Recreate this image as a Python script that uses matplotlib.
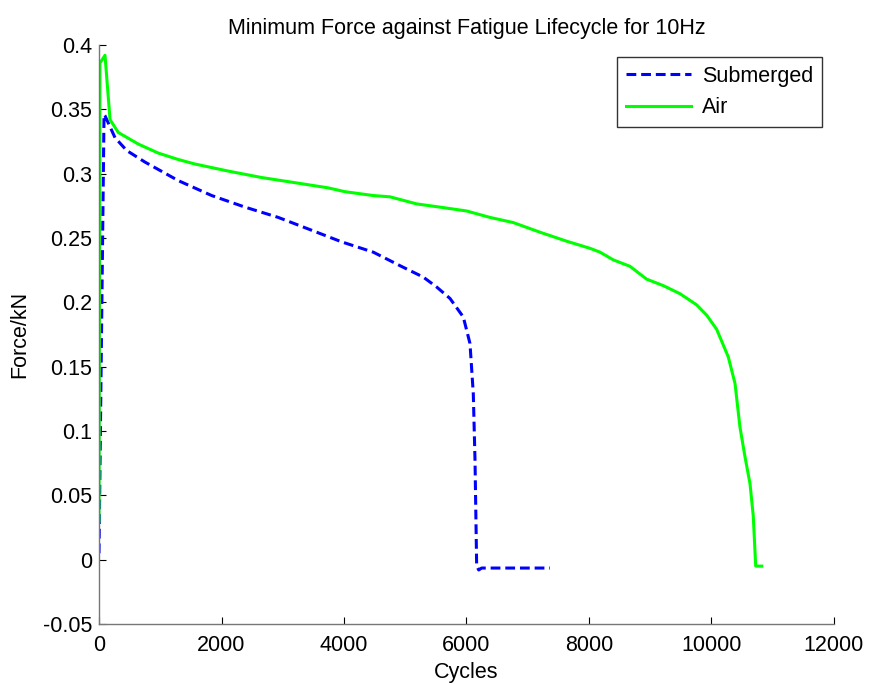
import matplotlib
matplotlib.use("Agg")
import matplotlib.pyplot as plt
from matplotlib.ticker import FormatStrFormatter

plt.rcParams['font.family'] = ['Liberation Sans', 'DejaVu Sans']

# Submerged test
sub_cycles = [0, 82, 98, 261, 452, 751, 1295, 1840, 2384, 2927, 3473, 3962,
              4478, 4914, 5295, 5513, 5731, 5948, 6057, 6111, 6139, 6166,
              6200, 6248, 7363]
sub_force = [0.005, 0.346, 0.345, 0.328, 0.318, 0.309, 0.2946, 0.283, 0.274,
             0.266, 0.256, 0.247, 0.239, 0.2285, 0.2196, 0.2119, 0.203,
             0.1886, 0.168, 0.129, 0.0775, -0.005, -0.008, -0.0065, -0.0065]

# Air test
air_cycles = [0, 16, 98, 180, 315, 642, 968, 1295, 1567, 2111, 2656, 3200,
              3739, 4016, 4478, 4751, 5187, 5567, 6003, 6384, 6764, 7200,
              7636, 8016, 8180, 8397, 8669, 8942, 9213, 9486, 9759, 9922,
              10085, 10274, 10384, 10465, 10547, 10629, 10682, 10722, 10820]
air_force = [0.03, 0.386, 0.392, 0.342, 0.332, 0.323, 0.316, 0.311, 0.3075,
             0.302, 0.297, 0.293, 0.289, 0.286, 0.283, 0.282, 0.2765, 0.274,
             0.271, 0.266, 0.262, 0.2545, 0.2475, 0.242, 0.239, 0.233, 0.228,
             0.218, 0.213, 0.2067, 0.198, 0.19, 0.179, 0.1576, 0.137, 0.103,
             0.080, 0.059, 0.034, -0.005, -0.005]

x_ticks = [0, 2000, 4000, 6000, 8000, 10000, 12000]
y_ticks = [-0.05, 0, 0.05, 0.1, 0.15, 0.2, 0.25, 0.3, 0.35, 0.4]

fs = 15.5  # same size for every text, as in the reference

fig = plt.figure(figsize=(8.7, 6.84), dpi=100)
ax = fig.add_axes([0.1138, 0.0877, 0.8448, 0.8465])

ax.plot(sub_cycles, sub_force, color=(0, 0, 1), linestyle='--', linewidth=2.2,
        dashes=(3.2, 1.6), label='Submerged')
ax.plot(air_cycles, air_force, color=(0, 1, 0), linewidth=2.2, label='Air')

ax.set_xlim(0, 12000)
ax.set_ylim(-0.05, 0.4)
ax.set_xticks(x_ticks)
ax.set_yticks(y_ticks)
ax.yaxis.set_major_formatter(FormatStrFormatter('%g'))

for side in ['top', 'right']:
    ax.spines[side].set_visible(False)
for side in ['left', 'bottom']:
    ax.spines[side].set_color('#777777')
    ax.spines[side].set_linewidth(1.0)
ax.tick_params(direction='in', length=5, width=0.8, labelsize=fs,
               colors='black', pad=5)
ax.tick_params(axis='x', pad=8)

ax.set_title('Minimum Force against Fatigue Lifecycle for 10Hz', fontsize=fs, pad=8)
ax.set_xlabel('Cycles', fontsize=fs, labelpad=4)
ax.set_ylabel('Force/kN', fontsize=fs, labelpad=9)

leg = ax.legend(loc='upper right', bbox_to_anchor=(0.984, 0.979), fontsize=fs,
                frameon=True, fancybox=False, handlelength=3.0,
                borderpad=0.4, labelspacing=0.49, handletextpad=0.55,
                borderaxespad=0)
leg.get_frame().set_edgecolor('black')
leg.get_frame().set_linewidth(1.0)

fig.savefig('out.png', dpi=100)
